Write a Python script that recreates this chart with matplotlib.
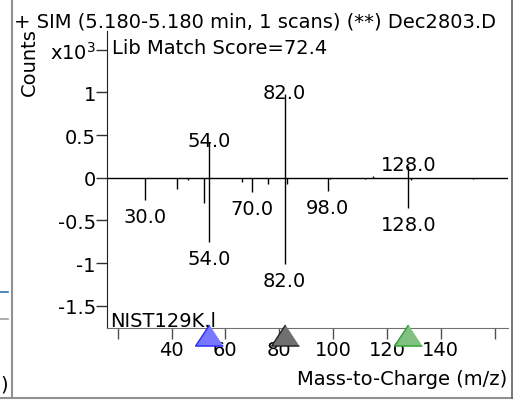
import matplotlib
matplotlib.use("Agg")
import matplotlib.pyplot as plt
from matplotlib.lines import Line2D
import matplotlib.transforms as mtransforms

# sample spectrum (upper, x10^3 counts)
sample_mz = [54, 82, 115, 128]
sample_counts = [0.42, 0.985, 0.02, 0.14]
# library spectrum (lower, mirrored)
lib_mz = [30, 42, 46, 52, 54, 66, 70, 76, 82, 83, 98, 99, 112, 128, 129, 152]
lib_counts = [-0.26, -0.13, -0.03, -0.30, -0.75, -0.05, -0.165, -0.07,
              -1.01, -0.07, -0.15, -0.01, -0.01, -0.35, -0.03, -0.01]

upper_labels = [54, 82, 128]
lower_labels = [30, 54, 70, 82, 98, 128]

marker_mz = [54, 82, 128]
marker_face = ['#7878ff', '#707070', '#80c080']
marker_edge = ['#2828ff', '#202020', '#30a030']

xticks = [20, 40, 60, 80, 100, 120, 140, 160]
xtick_labels = ['', '40', '60', '80', '100', '120', '140', '']
yticks = [-1.5, -1, -0.5, 0, 0.5, 1, 1.5]
ytick_labels = ['-1.5', '-1', '-0.5', '0', '0.5', '1', 'x10$^3$']

W, H = 522, 402
FS = 14


def fx(x):
    return x / W


def fy(y):
    return 1 - y / H


plt.rcParams['font.family'] = ['DejaVu Sans']
plt.rcParams['mathtext.default'] = 'regular'

fig = plt.figure(figsize=(W / 100, H / 100), dpi=100)
ax = fig.add_axes([fx(107), fy(329), (508 - 107) / W, (329 - 32) / H])

ax.vlines(sample_mz, 0, sample_counts, color='black', lw=1)
ax.vlines(lib_mz, 0, lib_counts, color='black', lw=1)
ax.axhline(0, color='black', lw=1)

ax.set_xlim(16, 165)
ax.set_ylim(-1.76, 1.72)

for mz in upper_labels:
    h = sample_counts[sample_mz.index(mz)]
    ax.annotate('%.1f' % mz, (mz, h), xytext=(0, -3), textcoords='offset points',
                ha='center', va='baseline', fontsize=FS)
for mz in lower_labels:
    h = lib_counts[lib_mz.index(mz)]
    ax.annotate('%.1f' % mz, (mz, h), xytext=(0, -5), textcoords='offset points',
                ha='center', va='top', fontsize=FS)

# triangle markers under the x axis
trans = mtransforms.blended_transform_factory(ax.transData, ax.transAxes)
tri = [(0, 0.76), (-1, -0.76), (1, -0.76)]
for mz, fc, ec in zip(marker_mz, marker_face, marker_edge):
    ax.plot([mz], [-0.022], marker=tri, markersize=20, markerfacecolor=fc,
            markeredgecolor=ec, markeredgewidth=1, transform=trans, clip_on=False,
            linestyle='none', zorder=5)

ax.set_xticks(xticks)
ax.set_xticklabels(xtick_labels)
ax.set_yticks(yticks)
ax.set_yticklabels(ytick_labels)
ax.tick_params(axis='x', direction='out', length=8, width=1, color='#505050',
               labelsize=FS, pad=1)
ax.tick_params(axis='y', direction='out', length=8, width=1, color='#303030',
               labelsize=FS, pad=0)

for s in ['top', 'right']:
    ax.spines[s].set_visible(False)
ax.spines['left'].set_color('#202020')
ax.spines['bottom'].set_color('#707070')

fig.text(fx(14), fy(22), '+ SIM (5.180-5.180 min, 1 scans) (**) Dec2803.D',
         ha='left', va='center', fontsize=FS)
fig.text(fx(29), fy(62), 'Counts', rotation=90, ha='center', va='center', fontsize=FS)
fig.text(fx(112), fy(48), 'Lib Match Score=72.4', ha='left', va='center', fontsize=FS)
fig.text(fx(110), fy(327), 'NIST129K.l', ha='left', va='baseline', fontsize=FS)
fig.text(fx(507), fy(380), 'Mass-to-Charge (m/z)', ha='right', va='center', fontsize=FS)

# panel frame and bits of the neighbouring panel
fig.add_artist(Line2D([fx(11.5), fx(11.5)], [fy(0), fy(399)], color='#909090', lw=1.5))
fig.add_artist(Line2D([fx(0), fx(512)], [fy(399), fy(399)], color='#909090', lw=1.5))
fig.add_artist(Line2D([fx(511.5), fx(511.5)], [fy(0), fy(399)], color='#606060', lw=1.2))
fig.add_artist(Line2D([fx(0), fx(8)], [fy(293), fy(293)], color='#3070b0', lw=1.2))
fig.add_artist(Line2D([fx(0), fx(8)], [fy(320), fy(320)], color='#a0a0a0', lw=1.2))
fig.text(fx(0), fy(385), ')', ha='left', va='center', fontsize=FS)

fig.savefig('out.png', dpi=100)
